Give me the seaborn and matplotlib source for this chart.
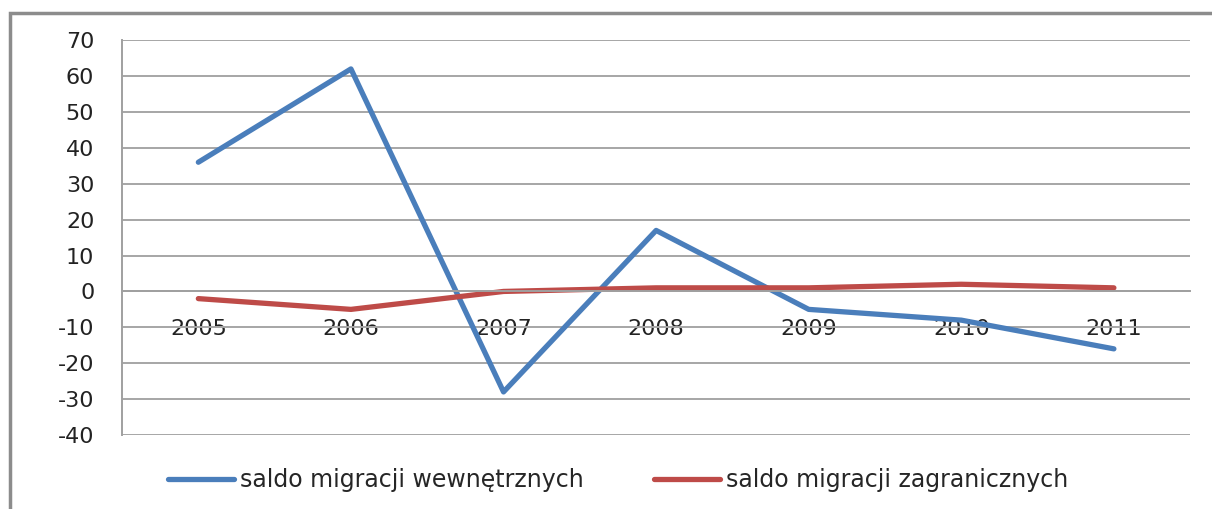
import matplotlib
matplotlib.use("Agg")
import pandas as pd
import matplotlib.pyplot as plt
import seaborn as sns
from matplotlib.patches import Rectangle
from matplotlib.lines import Line2D

# data
years = ["2005", "2006", "2007", "2008", "2009", "2010", "2011"]
wewnetrzne = [36, 62, -28, 17, -5, -8, -16]
zagraniczne = [-2, -5, 0, 1, 1, 2, 1]
series_names = ["saldo migracji wewnętrznych", "saldo migracji zagranicznych"]
y_ticks = list(range(-40, 80, 10))

df = pd.DataFrame({
    "rok": years * 2,
    "saldo": wewnetrzne + zagraniczne,
    "seria": [series_names[0]] * len(years) + [series_names[1]] * len(years),
})

sns.set_style("white")
plt.rcParams["font.family"] = ["DejaVu Sans"]

fig = plt.figure(figsize=(12.12, 5.09), dpi=100)
ax = fig.add_axes([0.1007, 0.1454, 0.8813, 0.7756])

palette = {series_names[0]: "#4A7EBB", series_names[1]: "#BE4B48"}
sns.lineplot(data=df, x="rok", y="saldo", hue="seria", palette=palette,
             linewidth=3.8, sort=False, legend=False, ax=ax)

ax.set_xlim(-0.5, len(years) - 0.5)
ax.set_ylim(-40, 70)
ax.set_yticks(y_ticks)
ax.set_yticklabels([str(t) for t in y_ticks], fontsize=16, color="#222222")
ax.tick_params(axis="y", length=8, width=1.2, color="#A0A0A0", pad=12)
ax.yaxis.grid(True, color="#A6A6A6", linewidth=1.4)
ax.set_axisbelow(True)

# x axis crosses at zero, labels centered on categories
ax.spines["bottom"].set_position(("data", 0))
ax.spines["bottom"].set_color("#A0A0A0")
ax.spines["bottom"].set_linewidth(1.4)
ax.spines["left"].set_color("#A0A0A0")
ax.spines["left"].set_linewidth(1.4)
ax.spines["top"].set_visible(False)
ax.spines["right"].set_visible(False)
ax.set_xticks(range(len(years)))
ax.set_xticklabels(years, fontsize=16, color="#222222")
ax.set_xticks([i + 0.5 for i in range(len(years))], minor=True)
ax.tick_params(axis="x", which="major", length=0, pad=20)
ax.tick_params(axis="x", which="minor", length=7, width=1.2, color="#A0A0A0", direction="out")
ax.set_xlabel("")
ax.set_ylabel("")

handles = [Line2D([], [], color=palette[n], linewidth=3.8) for n in series_names]
fig.legend(handles, series_names, loc="center", bbox_to_anchor=(0.51, 0.057),
           ncol=2, frameon=False, fontsize=17, handlelength=2.8,
           handletextpad=0.25, columnspacing=3.0)

# chart border
fig.patches.append(Rectangle((0.008, -0.01), 1.2, 0.985, transform=fig.transFigure,
                             fill=False, edgecolor="#8C8C8C", linewidth=2.5))

fig.savefig("out.png", dpi=100, facecolor="white")
